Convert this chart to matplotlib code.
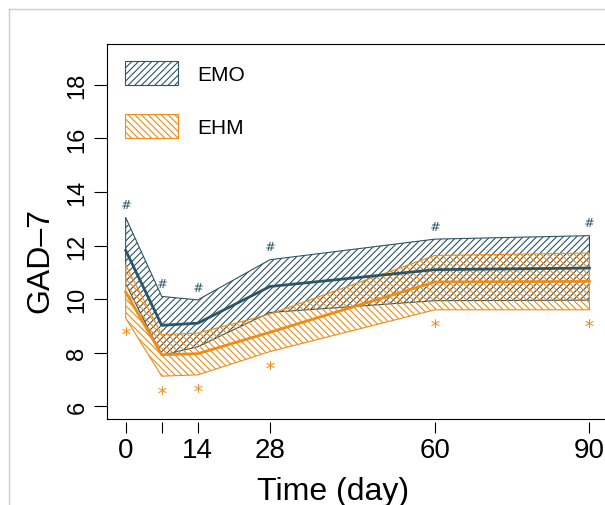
# GAD-7 over time: EMO vs EHM, mean with confidence band (hatched)
import matplotlib.pyplot as plt
from matplotlib.lines import Line2D
from matplotlib.patches import Patch

plt.rcParams.update(
    {
        "font.family": ["Liberation Sans", "DejaVu Sans"],
        "hatch.linewidth": 0.8,
        "axes.linewidth": 0.8,
    }
)

days = [0, 7, 14, 28, 60, 90]
xtick_pos = [0, 7, 14, 28, 60, 90]
xtick_lab = ["0", "", "14", "28", "60", "90"]
ytick_pos = [6, 8, 10, 12, 14, 16, 18]

emo_mean = [11.82, 9.02, 9.10, 10.47, 11.10, 11.16]
emo_hi = [13.05, 10.10, 9.97, 11.47, 12.24, 12.37]
emo_lo = [10.58, 7.90, 8.22, 9.50, 9.94, 9.96]

ehm_mean = [10.26, 7.92, 7.96, 8.76, 10.64, 10.66]
ehm_hi = [11.27, 8.67, 8.73, 9.44, 11.63, 11.72]
ehm_lo = [9.29, 7.12, 7.17, 8.04, 9.60, 9.60]

EMO_C = "#2C5566"
EHM_C = "#EE8C18"
HATCH_EMO = "/////"
HATCH_EHM = "\\\\\\\\\\"

fig = plt.figure(figsize=(6.05, 5.06), dpi=100)
ax = fig.add_axes([107 / 605, 86 / 506, 501 / 605, 375 / 506])

ax.fill_between(days, emo_lo, emo_hi, facecolor="none", edgecolor=EMO_C,
                hatch=HATCH_EMO, linewidth=0.8)
ax.fill_between(days, ehm_lo, ehm_hi, facecolor="none", edgecolor=EHM_C,
                hatch=HATCH_EHM, linewidth=0.8)
ax.plot(days, emo_mean, color=EMO_C, lw=2.0)
ax.plot(days, ehm_mean, color=EHM_C, lw=2.0)

# significance markers just outside the bands
ax.plot(days, [v + 0.5 for v in emo_hi], ls="none", marker=r"$\#$",
        ms=6.5, color=EMO_C, markeredgewidth=0)
ax.plot(days, [v - 0.5 for v in ehm_lo], ls="none", marker=r"$*$",
        ms=6.2, color=EHM_C, markeredgewidth=0)

ax.set_xlim(-3.62, 93.6)
ax.set_ylim(5.52, 19.53)
ax.set_xticks(xtick_pos, xtick_lab)
ax.set_yticks(ytick_pos, [str(v) for v in ytick_pos])
for lab in ax.get_yticklabels():
    lab.set_rotation(90)
    lab.set_va("center")
ax.tick_params(axis="x", length=8, width=0.8, pad=3, labelsize=20)
ax.tick_params(axis="y", length=9.4, width=0.8, pad=4, labelsize=17)

# R-like: x axis ticks detached slightly from the box
ax.spines["bottom"].set_position(("outward", 2.2))
ax.spines["bottom"].set_color("none")
ax.plot([0, 1], [0, 0], transform=ax.transAxes, color="black", lw=0.8,
        clip_on=False)

ax.set_xlabel("Time (day)", fontsize=23)
ax.set_ylabel("GAD\u20137", fontsize=23)
ax.xaxis.set_label_coords(0.451, -0.153)
ax.yaxis.set_label_coords(-0.104, 0.424)

handles = [
    Patch(facecolor="none", edgecolor=EMO_C, hatch=HATCH_EMO, linewidth=0.8),
    Patch(facecolor="none", edgecolor=EHM_C, hatch=HATCH_EHM, linewidth=0.8),
]
ax.legend(handles, ["EMO", "EHM"], loc="upper left",
          bbox_to_anchor=(18 / 501, 1 - 16.7 / 375), borderaxespad=0,
          borderpad=0, frameon=False, fontsize=15, handlelength=2.55,
          handleheight=1.45, handletextpad=0.9, labelspacing=1.35)

# thin gray frame around the panel
fig.add_artist(Line2D([8.5 / 605, 8.5 / 605], [0, 1 - 9.5 / 506],
                      color="#cccccc", lw=1))
fig.add_artist(Line2D([8.5 / 605, 1], [1 - 9.5 / 506, 1 - 9.5 / 506],
                      color="#cccccc", lw=1))

fig.savefig("out.png", dpi=100)
